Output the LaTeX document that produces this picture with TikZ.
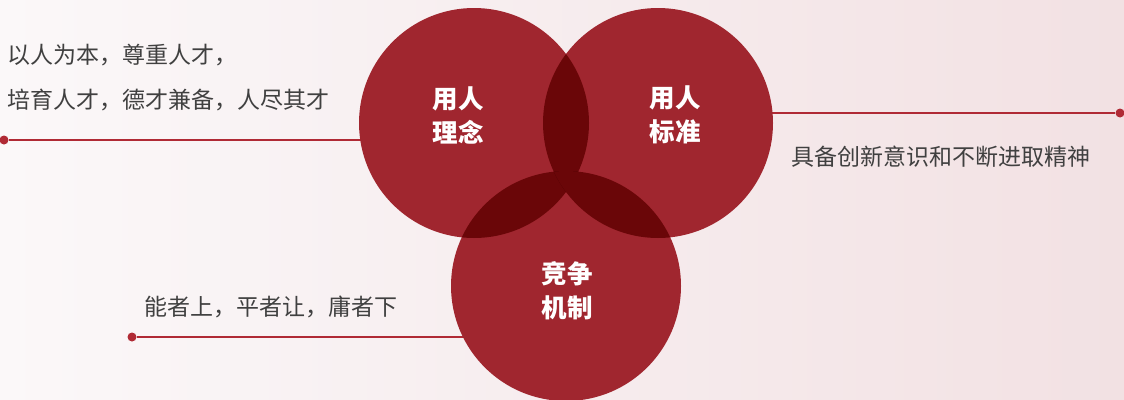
\documentclass[tikz,border=0pt]{standalone}
\usepackage{fontspec}
\setmainfont{Noto Sans CJK SC}
\definecolor{venn}{HTML}{A0262F}
\definecolor{vennpair}{HTML}{6A0608}
\definecolor{venntriple}{HTML}{470001}
\definecolor{leadred}{HTML}{B02A35}
\definecolor{notegray}{HTML}{404040}
\definecolor{bgleft}{HTML}{FBF8F9}
\definecolor{bgright}{HTML}{F2E1E3}
\tikzset{
  ring/.style={circle,fill=venn,minimum size=230pt,inner sep=0pt},
  ringtext/.style={text=white,font=\fontsize{25.5}{34}\selectfont\bfseries,align=center},
  note/.style={text=notegray,font=\fontsize{23}{45}\selectfont,align=left,inner sep=0pt},
  leader/.style={leadred,line width=1.2pt},
  dot/.style={circle,fill=leadred,minimum size=9pt,inner sep=0pt},
}
\begin{document}
\begin{tikzpicture}[x=1pt,y=-1pt]
\useasboundingbox (0,0) rectangle (1124,399);
\shade[left color=bgleft,right color=bgright] (0,0) rectangle (1124,399);
\coordinate (c1) at (474,123);
\coordinate (c2) at (658,123);
\coordinate (c3) at (566,286);
% leaders
\node[dot] (dotL) at (4,140) {};
\node[dot] (dotR) at (1120,113) {};
\node[dot] (dotB) at (132,337) {};
\draw[leader] (dotL) -- (dotL -| c1);
\draw[leader] (dotR) -- (dotR -| c2);
\draw[leader] (dotB) -- (dotB -| c3);
% circles
\node[ring] (idea) at (c1) {};
\node[ring] (plan) at (c2) {};
\node[ring] (rule) at (c3) {};
% overlaps
\begin{scope}
\clip (c1) circle[radius=115];
\fill[vennpair] (c2) circle[radius=115];
\fill[vennpair] (c3) circle[radius=115];
\clip (c2) circle[radius=115];
\fill[venntriple] (c3) circle[radius=115];
\end{scope}
\begin{scope}
\clip (c2) circle[radius=115];
\fill[vennpair] (c3) circle[radius=115];
\end{scope}
% labels
\node[ringtext] (ideatext) at ([xshift=-16pt,yshift=8pt]idea.center) {用人\\理念};
\node[ringtext] (plantext) at ([xshift=17pt,yshift=8pt]plan.center) {用人\\标准};
\node[ringtext] (ruletext) at ([xshift=1pt,yshift=-5pt]rule.center) {竞争\\机制};
\node[note,anchor=west] (ideanote) at (7,77.5) {以人为本，尊重人才，\\培育人才，德才兼备，人尽其才};
\node[note,anchor=west] (plannote) at (791,157) {具备创新意识和不断进取精神};
\node[note,anchor=west] (rulenote) at (144,307) {能者上，平者让，庸者下};
\end{tikzpicture}
\end{document}
